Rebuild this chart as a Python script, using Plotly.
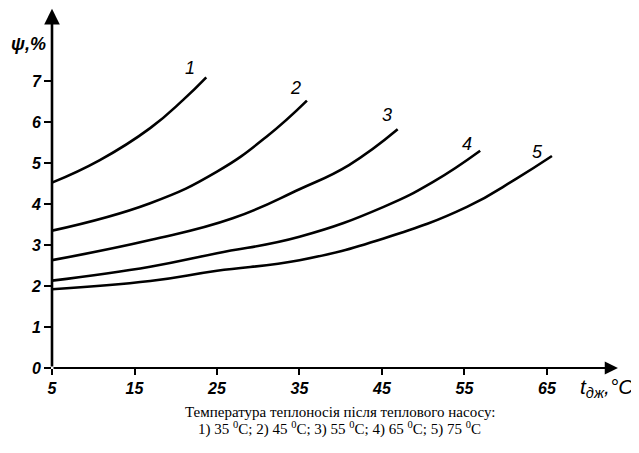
import plotly.graph_objects as go

# Data
t1 = [5, 10.8, 16.9, 20.9, 23.7]
p1 = [4.52, 5.07, 5.85, 6.54, 7.09]
t2 = [5, 16.9, 25, 31, 35.9]
p2 = [3.35, 4.02, 4.79, 5.64, 6.52]
t3 = [5, 16.9, 26.9, 35, 41, 46.9]
p3 = [2.63, 3.12, 3.65, 4.36, 4.95, 5.82]
t4 = [5, 16.9, 25, 35, 45.2, 51.2, 56.9]
p4 = [2.13, 2.47, 2.8, 3.2, 3.93, 4.54, 5.3]
t5 = [5, 16.9, 25, 35, 45.2, 55.3, 61.3, 65.6]
p5 = [1.92, 2.12, 2.37, 2.63, 3.16, 3.93, 4.62, 5.17]

curve_names = ["1", "2", "3", "4", "5"]
label_pos = [(21.7, 7.32), (34.5, 6.83), (45.6, 6.17), (55.3, 5.47), (63.8, 5.27)]

x_ticks = [5, 15, 25, 35, 45, 55, 65]
y_ticks = [0, 1, 2, 3, 4, 5, 6, 7]

caption1 = "Температура теплоносія після теплового насосу:"
caption2 = "1) 35 <sup>0</sup>C; 2) 45 <sup>0</sup>C; 3) 55 <sup>0</sup>C; 4) 65 <sup>0</sup>C; 5) 75 <sup>0</sup>C"

hand = dict(family="Liberation Sans", size=16, color="black", style="italic", weight="bold")

fig = go.Figure()
for tx, py in [(t1, p1), (t2, p2), (t3, p3), (t4, p4), (t5, p5)]:
    fig.add_trace(go.Scatter(x=tx, y=py, mode="lines",
                             line=dict(color="black", width=2.6, shape="spline", smoothing=1.3),
                             showlegend=False, hoverinfo="skip"))

annotations = []
for name, (lx, ly) in zip(curve_names, label_pos):
    annotations.append(dict(x=lx, y=ly, xref="x", yref="y", text=name, showarrow=False,
                            font=dict(family="Liberation Sans", size=18, color="black", style="italic")))

# axis arrows
annotations.append(dict(x=73.6, y=0, ax=5, ay=0, xref="x", yref="y", axref="x", ayref="y",
                        text="", showarrow=True, arrowhead=2, arrowsize=1.2, arrowwidth=2.2,
                        arrowcolor="black"))
annotations.append(dict(x=5, y=8.76, ax=5, ay=0, xref="x", yref="y", axref="x", ayref="y",
                        text="", showarrow=True, arrowhead=2, arrowsize=1.2, arrowwidth=2.6,
                        arrowcolor="black"))

annotations.append(dict(x=-0.0405, y=0.9, xref="paper", yref="paper", text="ψ,%",
                        xanchor="center", yanchor="middle",
                        showarrow=False, font=dict(family="Liberation Sans", size=18,
                                                   color="black", style="italic", weight="bold")))
annotations.append(dict(x=0.977, y=-0.0556, xref="paper", yref="paper",
                        text="t<sub>дж</sub>,°C", showarrow=False, xanchor="center", yanchor="middle",
                        font=dict(family="Liberation Sans", size=21, color="black", style="italic")))
annotations.append(dict(x=0.507, y=-0.122, xref="paper", yref="paper", text=caption1,
                        xanchor="center", yanchor="middle",
                        showarrow=False, font=dict(family="Liberation Serif", size=15, color="black")))
annotations.append(dict(x=0.507, y=-0.169, xref="paper", yref="paper", text=caption2,
                        xanchor="center", yanchor="middle",
                        showarrow=False, font=dict(family="Liberation Serif", size=15, color="black")))

fig.update_layout(
    width=631, height=445,
    margin=dict(l=44, r=19, t=0, b=85),
    paper_bgcolor="white", plot_bgcolor="white",
    annotations=annotations,
    xaxis=dict(range=[5, 73.85], tickvals=x_ticks, ticktext=[str(v) for v in x_ticks],
               showgrid=False, zeroline=False, showline=False,
               ticks="outside", ticklen=6, tickwidth=2, tickcolor="black",
               tickfont=hand),
    yaxis=dict(range=[0, 8.78], tickvals=y_ticks, ticktext=[str(v) for v in y_ticks],
               showgrid=False, zeroline=False, showline=False,
               ticks="outside", ticklen=7, tickwidth=2, tickcolor="black",
               tickfont=hand),
)

fig.write_html("out.html")
